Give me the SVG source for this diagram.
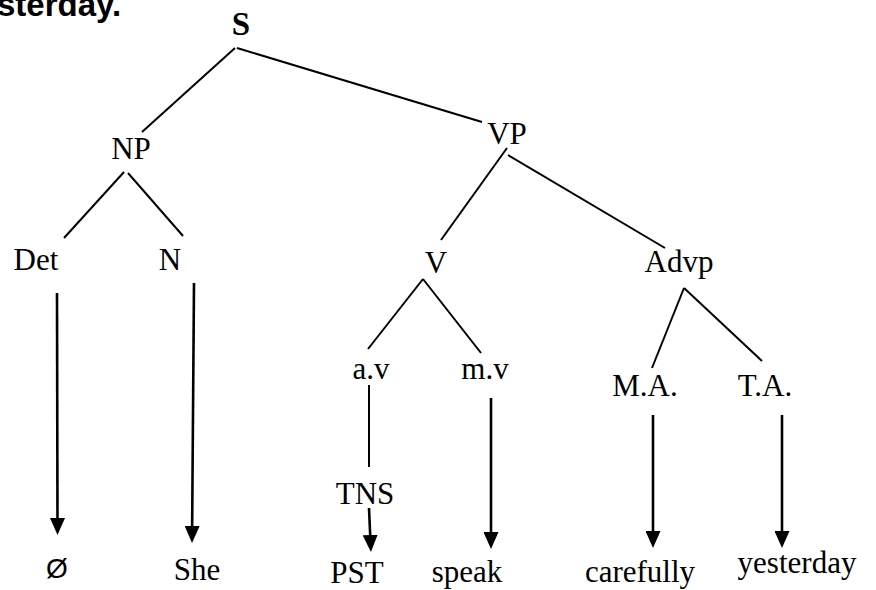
<svg xmlns="http://www.w3.org/2000/svg" width="876" height="590" viewBox="0 0 876 590">
  <style>
    .lbl { font-family: "Liberation Serif", "Times New Roman", serif; font-size: 31px; fill: #000; text-anchor: middle; }
    .root { font-weight: bold; font-size: 33px; }
    .title { font-family: "Liberation Sans", Arial, sans-serif; font-size: 33px; font-weight: bold; fill: #000; }
    .sym { font-family: "Liberation Sans", Arial, sans-serif; font-size: 28px; }
    .edge { stroke: #000; stroke-width: 2; fill: none; }
    .arrow { stroke: #000; stroke-width: 2.6; fill: none; marker-end: url(#head); }
  </style>
  <defs>
    <marker id="head" markerUnits="userSpaceOnUse" viewBox="0 0 17 15" markerWidth="17" markerHeight="15" refX="7" refY="7.5" orient="auto">
      <path d="M0,0 L17,7.5 L0,15 z" fill="#000"/>
    </marker>
  </defs>
  <rect width="876" height="590" fill="#fff"/>

  <!-- tail of the heading line above the tree -->
  <text class="title" x="-3" y="16">sterday.</text>

  <!-- tree branches and derivation arrows -->
  <g id="connectors">
    <line class="edge" x1="235" y1="48" x2="142" y2="132"/>
    <line class="edge" x1="237" y1="48" x2="482" y2="122"/>
    <line class="edge" x1="124" y1="172" x2="64" y2="238"/>
    <line class="edge" x1="128" y1="173" x2="183" y2="236"/>
    <line class="edge" x1="507" y1="148" x2="441" y2="240"/>
    <line class="edge" x1="508" y1="155" x2="665" y2="248"/>
    <line class="edge" x1="423" y1="279" x2="368" y2="349"/>
    <line class="edge" x1="423" y1="279" x2="481" y2="353"/>
    <line class="edge" x1="684" y1="288" x2="652" y2="368"/>
    <line class="edge" x1="684" y1="288" x2="762" y2="361"/>
    <line class="edge" x1="369" y1="385" x2="369" y2="467"/>

    <line class="arrow" x1="57" y1="293" x2="57.5" y2="525"/>
    <line class="arrow" x1="194" y1="283" x2="192.1" y2="533"/>
    <line class="arrow" x1="369" y1="508" x2="370.5" y2="542"/>
    <line class="arrow" x1="491" y1="398" x2="491" y2="539"/>
    <line class="arrow" x1="653" y1="415" x2="653" y2="538"/>
    <line class="arrow" x1="782" y1="415" x2="782" y2="538"/>
  </g>

  <g id="node-S"><text class="lbl root" x="241" y="35">S</text></g>
  <g id="node-NP"><text class="lbl" x="131" y="159">NP</text></g>
  <g id="node-VP"><text class="lbl" x="507" y="144">VP</text></g>
  <g id="node-Det"><text class="lbl" x="36" y="270">Det</text></g>
  <g id="node-N"><text class="lbl" x="170" y="270">N</text></g>
  <g id="node-V"><text class="lbl" x="436" y="273">V</text></g>
  <g id="node-Advp"><text class="lbl" x="679" y="272">Advp</text></g>
  <g id="node-av"><text class="lbl" x="371" y="379">a.v</text></g>
  <g id="node-mv"><text class="lbl" x="485" y="379">m.v</text></g>
  <g id="node-MA"><text class="lbl" x="645" y="396">M.A.</text></g>
  <g id="node-TA"><text class="lbl" x="765" y="396">T.A.</text></g>
  <g id="node-TNS"><text class="lbl" x="365" y="504">TNS</text></g>
  <g id="node-null"><text class="lbl sym" x="57" y="578">Ø</text></g>
  <g id="node-She"><text class="lbl" x="197" y="580">She</text></g>
  <g id="node-PST"><text class="lbl" x="357" y="583">PST</text></g>
  <g id="node-speak"><text class="lbl" x="467" y="582">speak</text></g>
  <g id="node-carefully"><text class="lbl" x="640" y="582">carefully</text></g>
  <g id="node-yesterday"><text class="lbl" x="797" y="573">yesterday</text></g>
</svg>
